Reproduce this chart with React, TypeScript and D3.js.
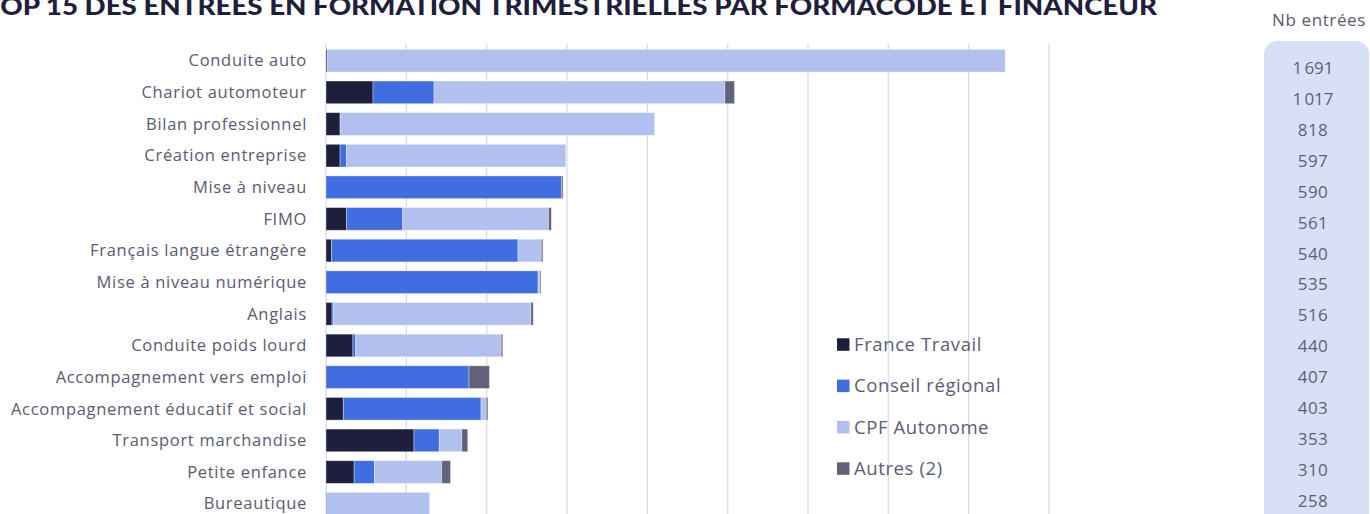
import React from "react";
import * as d3 from "d3";

const categories = [
  "Conduite auto",
  "Chariot automoteur",
  "Bilan professionnel",
  "Création entreprise",
  "Mise à niveau",
  "FIMO",
  "Français langue étrangère",
  "Mise à niveau numérique",
  "Anglais",
  "Conduite poids lourd",
  "Accompagnement vers emploi",
  "Accompagnement éducatif et social",
  "Transport marchandise",
  "Petite enfance",
  "Bureautique",
];
const franceTravail = [3, 117, 35, 35, 0, 51, 14, 0, 15, 67, 0, 43, 219, 70, 2];
const conseilRegional = [0, 152, 0, 16, 586, 140, 464, 528, 4, 7, 356, 343, 63, 51, 0];
const cpfAutonome = [1688, 724, 783, 545, 0, 363, 58, 4, 491, 362, 0, 13, 56, 167, 256];
const autres = [0, 24, 0, 1, 4, 7, 4, 3, 6, 4, 51, 4, 15, 22, 0];
const totals = [1691, 1017, 818, 597, 590, 561, 540, 535, 516, 440, 407, 403, 353, 310, 258];
const seriesNames = ["France Travail", "Conseil régional", "CPF Autonome", "Autres (2)"];
const seriesColors = ["#1e1f3c", "#406ddf", "#b1c0ef", "#62627a"];
const xTicks = [0, 200, 400, 600, 800, 1000, 1200, 1400, 1600, 1800];
const title = "TOP 15 DES ENTRÉES EN FORMATION TRIMESTRIELLES PAR FORMACODE ET FINANCEUR";

const fmt = d3.formatLocale({ decimal: ",", thousands: "\u202f", grouping: [3], currency: ["", "€"] }).format(",d");

export default function App() {
  const W = 1370, H = 514;
  const x = d3.scaleLinear().domain([0, 1800]).range([326, 1049]);
  const y = d3.scaleBand<string>().domain(categories).range([44.9, 519.5]).paddingInner(0.283).paddingOuter(0.1415);
  const yNum = d3.scalePoint<string>().domain(categories).range([68, 501]);
  const rows = categories.map((c, i) => ({
    cat: c,
    v0: franceTravail[i], v1: conseilRegional[i], v2: cpfAutonome[i], v3: autres[i],
  }));
  const stack = d3.stack<any>().keys(["v0", "v1", "v2", "v3"]);
  const layers = stack(rows);
  const legendY = d3.scalePoint<string>().domain(seriesNames).range([344.5, 468.5]);
  const font = "'Open Sans', sans-serif";

  return (
    <svg width={W} height={H} style={{ position: "absolute", left: 0, top: 0, display: "block" }}>
      <rect width={W} height={H} fill="#ffffff" />
      <text x={-16} y={15} textLength={1173} lengthAdjust="spacingAndGlyphs" fontFamily="Lato, sans-serif" fontWeight={900} fontSize={24} fill="#1f1f3d">
        {title}
      </text>
      {xTicks.map((t) => (
        <line key={t} x1={x(t)} x2={x(t)} y1={44} y2={H} stroke="#dcdcf0" strokeWidth={1.4} />
      ))}
      {layers.map((layer, li) => (
        <g key={li} fill={seriesColors[li]}>
          {layer.map((d: any, i: number) => {
            const w = x(d[1]) - x(d[0]);
            if (w <= 0) return null;
            return (
              <rect key={i} x={x(d[0])} y={y(d.data.cat)} width={w} height={y.bandwidth()}
                stroke="#ffffff" strokeOpacity={0.45} strokeWidth={0.8} />
            );
          })}
        </g>
      ))}
      {categories.map((c) => (
        <text key={c} x={307} y={(y(c) as number) + y.bandwidth() / 2} dy="0.35em" textAnchor="end"
          fontFamily={font} fontSize={16.5} letterSpacing={0.7} fill="#5a5a72">{c}</text>
      ))}
      {seriesNames.map((s, i) => (
        <g key={s} transform={`translate(837,${legendY(s)})`}>
          <rect x={0} y={-6.2} width={12.5} height={12.5} fill={seriesColors[i]} />
          <text x={17} y={0} dy="0.35em" fontFamily={font} fontSize={18.5} letterSpacing={0.6} fill="#5c5c78">{s}</text>
        </g>
      ))}
      <text x={1319} y={26} textAnchor="middle" fontFamily={font} fontSize={17} letterSpacing={0.6} fill="#5a5a72">Nb entrées</text>
      <rect x={1264} y={41} width={105} height={520} rx={13} fill="#d8e0f7" />
      {categories.map((c, i) => (
        <text key={c} x={1313} y={yNum(c)} dy="0.35em" textAnchor="middle" fontFamily={font} fontSize={17} letterSpacing={0.4} fill="#5f5f78">
          {fmt(totals[i])}
        </text>
      ))}
    </svg>
  );
}
